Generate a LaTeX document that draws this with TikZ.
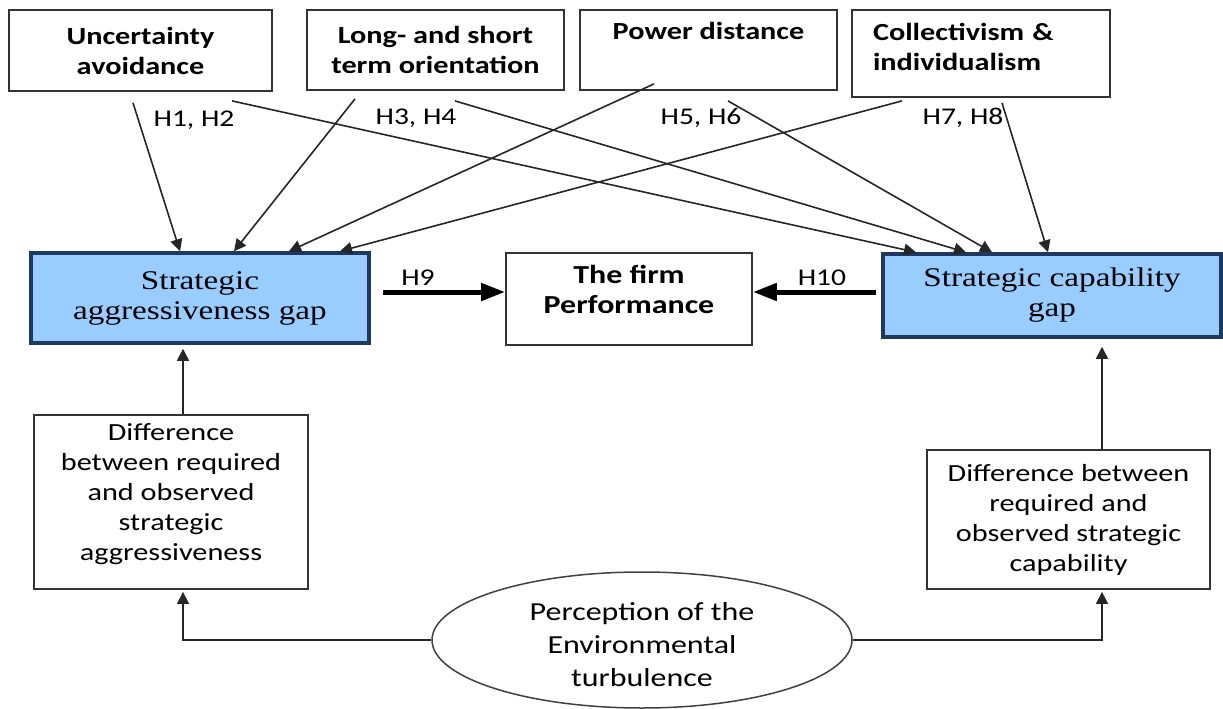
\documentclass[tikz,border=0pt]{standalone}
\usepackage{fontspec}
\setmainfont[FakeStretch=1.23]{Carlito}
\newfontfamily\gapfont[FakeStretch=1.23]{Liberation Serif}
\usetikzlibrary{arrows.meta,shapes.geometric}
\definecolor{gapblue}{RGB}{153,204,255}
\definecolor{gapedge}{RGB}{31,56,96}
\begin{document}
\begin{tikzpicture}[x=1pt,y=-1pt,
  every node/.style={inner sep=0pt,align=center},
  dim/.style={draw=black!80,line width=1.8pt,font=\fontsize{24.6}{30}\selectfont\bfseries},
  gapbox/.style={draw=gapedge,fill=gapblue,line width=3.5pt,font=\fontsize{27}{30}\selectfont\gapfont},
  diff/.style={draw=black!80,line width=1.8pt,font=\fontsize{24.6}{30}\selectfont},
  hyp/.style={font=\fontsize{24}{28}\selectfont},
  thin/.style={line width=1.6pt,draw=black!85,-{Triangle[length=12pt,width=12pt]}},
  thick/.style={line width=5pt,-{Triangle[length=24pt,width=17pt]}}]
\useasboundingbox (0,0) rectangle (1223,709);
% cultural dimensions
\node[dim,minimum width=263pt,minimum height=81pt] (ua) at (140.5,50.5) {Uncertainty\\avoidance};
\node[dim,minimum width=257pt,minimum height=80pt] (lt) at (435.5,50) {Long- and short\\term orientation};
\node[dim,minimum width=257pt,minimum height=80pt] (pd) at (708.5,50) {Power distance\\ \strut};
\node[dim,minimum width=258pt,minimum height=87pt,text width=216pt,align=left] (ci) at (981,53.5) {Collectivism \&\\individualism\\[-16pt]\mbox{}};
% gaps and performance
\node[gapbox,minimum width=338pt,minimum height=90pt] (agg) at (200,298) {Strategic\\aggressiveness gap};
\node[dim,minimum width=246pt,minimum height=92pt,font=\fontsize{26}{30}\selectfont\bfseries] (perf) at (629,299) {The firm\\Performance\\[-11pt]\mbox{}};
\node[gapbox,minimum width=338pt,minimum height=83pt] (cap) at (1052,295.5) {Strategic capability\\gap};
% differences and environment
\node[diff,minimum width=274pt,minimum height=174pt] (ldiff) at (171,502) {Difference\\between required\\and observed\\strategic\\aggressiveness\\[-9pt]\mbox{}};
\node[diff,minimum width=283pt,minimum height=139pt] (rdiff) at (1068.5,519.5) {Difference between\\required and\\observed strategic\\capability};
\node[ellipse,draw=black!75,line width=1.5pt,minimum width=420pt,minimum height=136pt,font=\fontsize{26}{33}\selectfont] (env) at (642,640) {\mbox{}\\[-5pt]Perception of the\\Environmental\\turbulence};
% hypotheses
\draw[thin] ([xshift=-7.5pt,yshift=-11pt]ua.south) -- ([xshift=-20pt]agg.north);
\draw[thin] ([xshift=91.5pt,yshift=-9pt]ua.south) -- ([xshift=-136pt]cap.north);
\draw[thin] ([xshift=-80.5pt,yshift=-8pt]lt.south) -- ([xshift=34pt]agg.north);
\draw[thin] ([xshift=19.5pt,yshift=-10pt]lt.south) -- ([xshift=-86pt]cap.north);
\draw[thin] ([xshift=-54.5pt,yshift=7pt]pd.south) -- ([xshift=89pt]agg.north);
\draw[thin] ([xshift=19.5pt,yshift=-10pt]pd.south) -- ([xshift=-60pt]cap.north);
\draw[thin] ([xshift=-79pt,yshift=-3pt]ci.south) -- ([xshift=140pt]agg.north);
\draw[thin] ([xshift=21pt,yshift=-5pt]ci.south) -- ([xshift=-4pt]cap.north);
\node[hyp] (h12) at (194,120) {H1, H2};
\node[hyp] (h34) at (416,118) {H3, H4};
\node[hyp] (h56) at (701,118) {H5, H6};
\node[hyp] (h78) at (963,118) {H7, H8};
\draw[thick] ([xshift=12pt,yshift=6pt]agg.east) -- ([yshift=7pt]perf.west);
\draw[thick] ([xshift=-5pt,yshift=3.5pt]cap.west) -- ([yshift=7pt]perf.east);
\node[hyp] (h9) at (418,278) {H9};
\node[hyp] (h10) at (822,278) {H10};
% feeding the gaps
\draw[thin] ([xshift=12pt]ldiff.north) -- ([xshift=12pt,yshift=-4pt]ldiff.north |- agg.south);
\draw[thin] ([xshift=33.5pt]rdiff.north) -- ([xshift=33.5pt,yshift=-8pt]rdiff.north |- cap.south);
\draw[thin] (env.west) -| ([xshift=12pt,yshift=-2pt]ldiff.south);
\draw[thin] (env.east) -| ([xshift=33.5pt,yshift=-2pt]rdiff.south);
\end{tikzpicture}
\end{document}
